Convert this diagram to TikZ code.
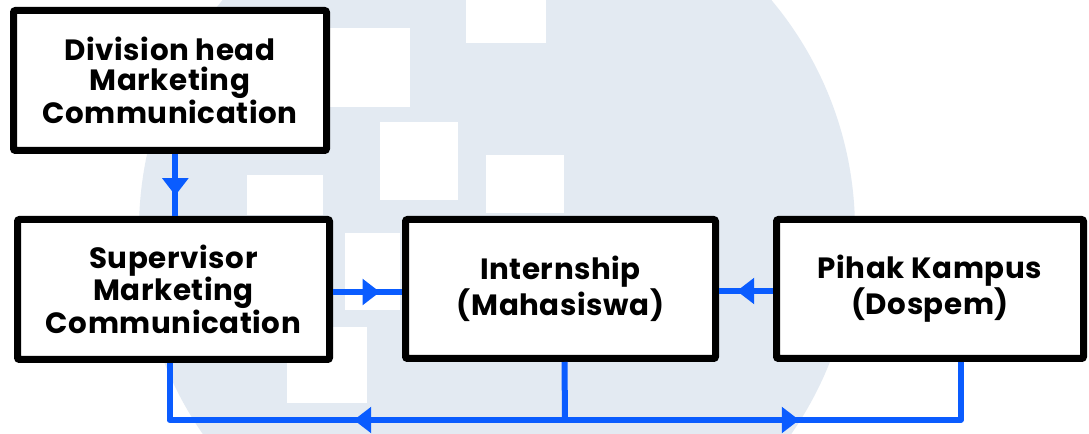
\documentclass[tikz,border=0pt]{standalone}
\usepackage{fontspec}
\setmainfont{Poppins}[LetterSpace=2]
\usetikzlibrary{arrows.meta,decorations.markings}
\definecolor{wm}{RGB}{227,234,242}
\definecolor{lnblue}{RGB}{10,92,255}
\begin{document}
\begin{tikzpicture}[x=0.75pt,y=-0.75pt,
  box/.style={draw=black, line width=5.25pt, fill=white, rounded corners=1.5pt,
    align=center, inner sep=0pt, minimum height=105pt,
    font=\fontsize{22pt}{22.5pt}\selectfont\bfseries},
  link/.style={draw=lnblue, line width=4.5pt, line join=round},
  mytip/.tip={Triangle[length=13pt,width=19pt]},
  wmsq/.style={fill=white}]
\useasboundingbox (0,0) rectangle (1089,434);
% watermark
\begin{scope}
\clip (0,0) rectangle (1089,434);
\fill[white] (0,0) rectangle (1089,434);
\fill[wm] (497,230) circle[radius=268.5pt];
\fill[wmsq] (466,0) rectangle (546,43);
\fill[wmsq] (330,28) rectangle (410,107);
\fill[wmsq] (380,122) rectangle (458,200);
\fill[wmsq] (486,155) rectangle (564,213);
\fill[wmsq] (345,233) rectangle (400,310);
\fill[wmsq] (247,175) rectangle (323,215);
\fill[wmsq] (287,327) rectangle (367,403);
\end{scope}
% boxes
\node[box, minimum width=234.75pt] (A) at (170,80.5) {Division head\\Marketing\\Communication};
\node[box, minimum width=234pt] (B) at (173.5,289.5) {Supervisor\\Marketing\\Communication};
\node[box, minimum width=232.5pt, minimum height=104.25pt] (C) at (560.5,289) {Internship\\(Mahasiswa)};
\node[box, minimum width=230.25pt, minimum height=104.25pt] (D) at (930,289) {Pihak Kampus\\(Dospem)};
\coordinate (bus) at (565,420);
% connectors
\draw[link, postaction={decorate}, decoration={markings, mark=at position 0.67 with {\arrow{mytip}}}]
  ([xshift=4pt]A.south) -- ([xshift=4pt]A.south |- B.north);
\draw[link, postaction={decorate}, decoration={markings, mark=at position 0.68 with {\arrow{mytip}}}]
  (B.east |- 0,292) -- (C.west |- 0,292);
\draw[link, postaction={decorate}, decoration={markings, mark=at position 0.67 with {\arrow{mytip}}}]
  (D.west |- 0,291) -- (C.east |- 0,291);
\draw[link] ([xshift=3pt]C.south) -- (bus);
\draw[link, postaction={decorate}, decoration={markings,
    mark=at position 181pt with {\arrowreversed{mytip}},
    mark=at position 515pt with {\arrow{mytip}}}]
  ([xshift=-3pt]B.south) |- (bus) -| ([xshift=23pt]D.south);
\end{tikzpicture}
\end{document}
